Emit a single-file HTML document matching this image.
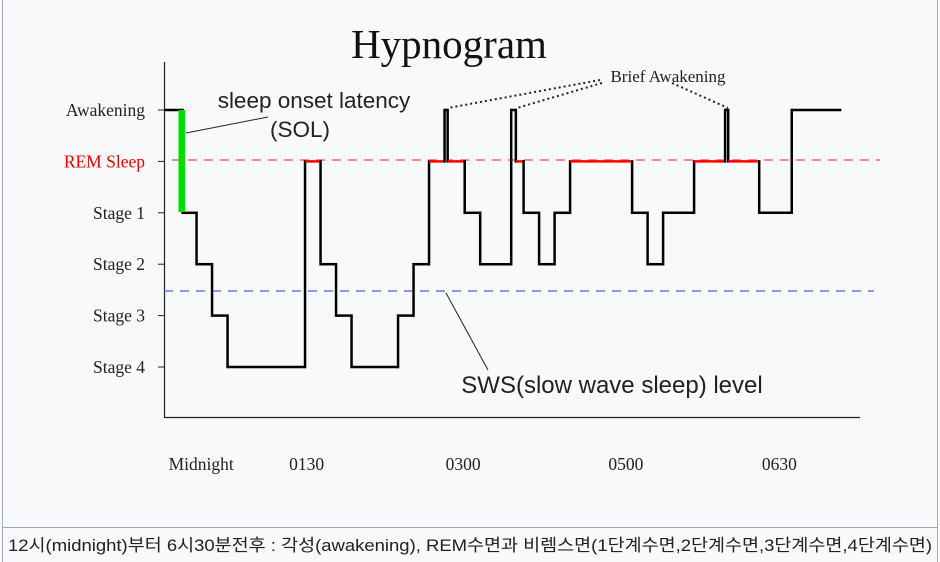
<!DOCTYPE html>
<html><head><meta charset="utf-8"><style>
body{margin:0;background:#f8f9fa;}
svg{display:block}
</style></head><body>
<svg width="940" height="562" viewBox="0 0 940 562" xmlns="http://www.w3.org/2000/svg">
<rect x="0" y="0" width="940" height="562" fill="#f8f9fa"/>
<line x1="2.5" y1="0" x2="2.5" y2="562" stroke="#a2a9b1"/>
<line x1="937.5" y1="0" x2="937.5" y2="562" stroke="#a2a9b1"/>
<line x1="2" y1="527.5" x2="938" y2="527.5" stroke="#a2a9b1"/>
<text x="449" y="58" text-anchor="middle" font-family="Liberation Serif, serif" font-size="41" fill="#111">Hypnogram</text>
<line x1="164.5" y1="62" x2="164.5" y2="418" stroke="#222" stroke-width="1.2"/>
<line x1="164" y1="417.5" x2="860" y2="417.5" stroke="#222" stroke-width="1.2"/>
<g id="yt"></g>
<g id="xt"></g>
<line x1="172" y1="160" x2="880" y2="160" stroke="#f44" stroke-width="1.2" stroke-dasharray="9,7"/>
<line x1="164" y1="291" x2="874" y2="291" stroke="#55f" stroke-width="1.2" stroke-dasharray="9,7"/>
<g id="series"></g>
<rect x="178.5" y="110" width="6.5" height="102" fill="#00e000"/>
<line x1="186" y1="133" x2="268" y2="117" stroke="#222" stroke-width="1"/>
<text x="314" y="108" text-anchor="middle" font-family="Liberation Sans, sans-serif" font-size="22.5" fill="#222">sleep onset latency</text>
<text x="300" y="137" text-anchor="middle" font-family="Liberation Sans, sans-serif" font-size="22.5" fill="#222">(SOL)</text>
<text x="668" y="82" text-anchor="middle" font-family="Liberation Serif, serif" font-size="17" fill="#222">Brief Awakening</text>
<line x1="600" y1="80" x2="448" y2="108" stroke="#222" stroke-width="2" stroke-dasharray="2,3"/>
<line x1="602" y1="83" x2="517" y2="108" stroke="#222" stroke-width="2" stroke-dasharray="2,3"/>
<line x1="672" y1="83" x2="728" y2="108" stroke="#222" stroke-width="2" stroke-dasharray="2,3"/>
<line x1="446" y1="293" x2="488" y2="370" stroke="#222" stroke-width="1"/>
<text x="612" y="393" text-anchor="middle" font-family="Liberation Sans, sans-serif" font-size="24" fill="#222">SWS(slow wave sleep) level</text>
<text x="8" y="551" font-family="Liberation Sans, 'Noto Sans CJK KR', sans-serif" font-size="17" textLength="924" lengthAdjust="spacingAndGlyphs" fill="#202122">12시(midnight)부터 6시30분전후 : 각성(awakening), REM수면과 비렘스면(1단계수면,2단계수면,3단계수면,4단계수면)</text>
</svg>
<script>
const stageLabels=["Awakening","REM Sleep","Stage 1","Stage 2","Stage 3","Stage 4"];
const xTickLabels=["Midnight","0130","0300","0500","0630"];
const xTickMinutes=[24,92,193,298,397];
const segStart=[0,12,21,31,41,91,101,111,121,151,161,171,181,183,194,204,224,227,232,242,252,262,302,312,322,342,362,364,384,405];
const segEnd=[12,21,31,41,91,101,111,121,151,161,171,181,183,194,204,224,227,232,242,252,262,302,312,322,342,362,364,384,405,437];
const segStage=[0,2,3,4,5,1,3,4,5,4,3,1,0,1,2,3,0,1,2,3,2,1,2,3,2,1,0,1,2,0];
const NS="http://www.w3.org/2000/svg";
const xs=m=>164+m*1.55;
const ys=s=>110+s*51.4;
const yt=document.getElementById('yt');
stageLabels.forEach((l,i)=>{
  const tk=document.createElementNS(NS,'line');
  tk.setAttribute('x1',158);tk.setAttribute('x2',165);
  tk.setAttribute('y1',ys(i));tk.setAttribute('y2',ys(i));
  tk.setAttribute('stroke','#222');
  
  
  yt.appendChild(tk);
  const t=document.createElementNS(NS,'text');
  t.setAttribute('x',145);t.setAttribute('y',ys(i)+6);
  t.setAttribute('text-anchor','end');
  t.setAttribute('font-family','Liberation Serif, serif');
  t.setAttribute('font-size','17.5');
  t.setAttribute('fill',i===1?'#e00':'#222');
  t.textContent=l;
  
  
  yt.appendChild(t);
});
const xt=document.getElementById('xt');
xTickLabels.forEach((l,i)=>{
  const t=document.createElementNS(NS,'text');
  t.setAttribute('x',xs(xTickMinutes[i]));t.setAttribute('y',470);
  t.setAttribute('text-anchor','middle');
  t.setAttribute('font-family','Liberation Serif, serif');
  t.setAttribute('font-size','17.5');
  t.setAttribute('fill','#222');
  t.textContent=l;
  
  
  xt.appendChild(t);
});
const g=document.getElementById('series');
for(let i=0;i<segStart.length;i++){
  const h=document.createElementNS(NS,'line');
  h.setAttribute('x1',xs(segStart[i]));h.setAttribute('x2',xs(segEnd[i]));
  h.setAttribute('y1',ys(segStage[i]));h.setAttribute('y2',ys(segStage[i]));
  h.setAttribute('stroke',segStage[i]===1?'#f00':'#000');
  h.setAttribute('stroke-width','2.5');
  
  
  g.appendChild(h);
  if(i+1<segStart.length){
    const v=document.createElementNS(NS,'line');
    v.setAttribute('x1',xs(segEnd[i]));v.setAttribute('x2',xs(segEnd[i]));
    v.setAttribute('y1',ys(segStage[i]));v.setAttribute('y2',ys(segStage[i+1]));
    v.setAttribute('stroke','#000');
    v.setAttribute('stroke-width','2.5');
    v.setAttribute('stroke-linecap','square');
    
    
    g.appendChild(v);
  }
}
</script>
</body></html>
